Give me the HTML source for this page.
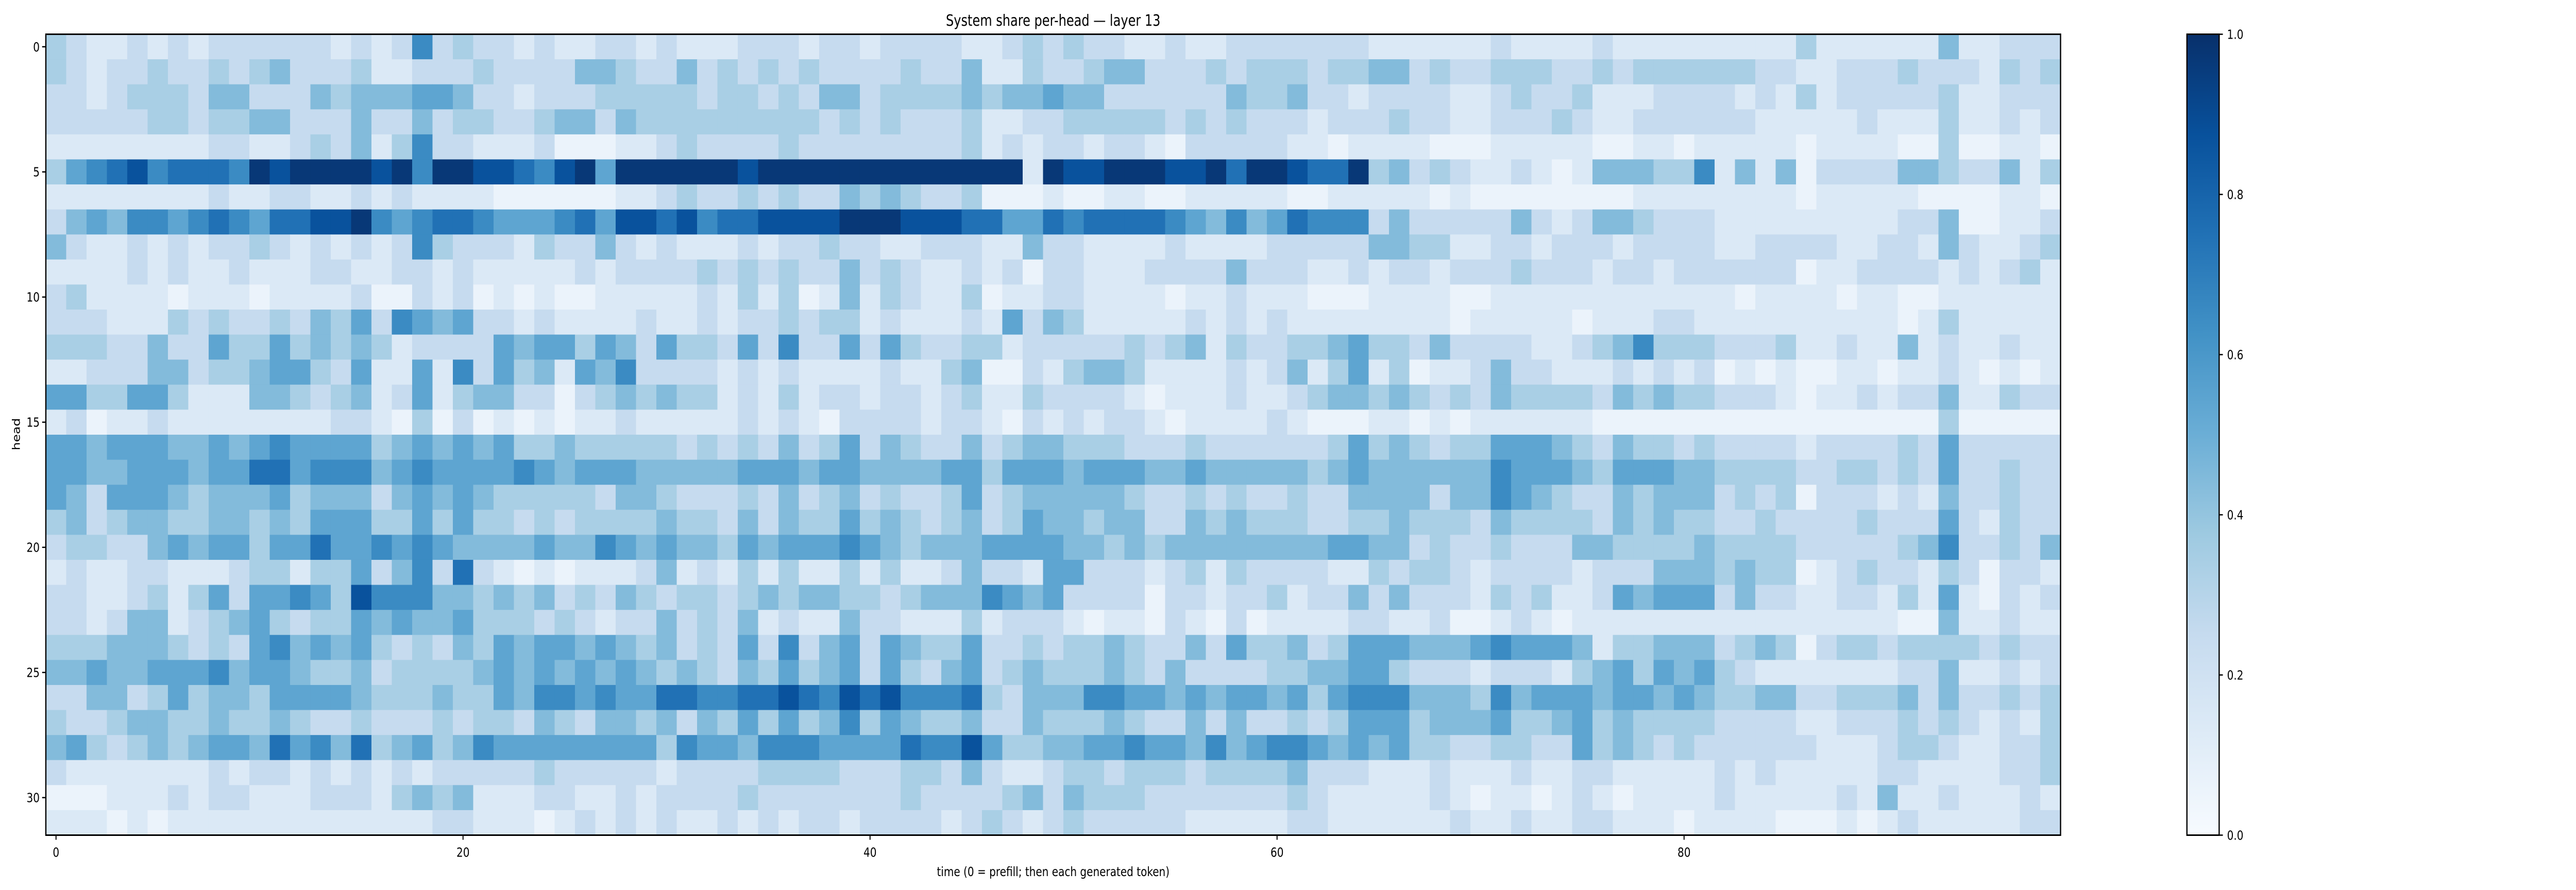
<!DOCTYPE html>
<html><head><meta charset="utf-8"><title>System share per-head — layer 13</title>
<style>html,body{margin:0;padding:0;background:#fff;overflow:hidden;width:100%;height:100%;}svg{display:block;width:100vw;height:100vh;font-family:"DejaVu Sans","Liberation Sans",sans-serif;}</style>
</head><body>
<svg id="chart" viewBox="0 0 6237 1728" preserveAspectRatio="none" xmlns="http://www.w3.org/2000/svg">
<defs><linearGradient id="blues" x1="0" y1="1" x2="0" y2="0">
<stop offset="0" stop-color="#f7fbff"/><stop offset="0.125" stop-color="#deebf7"/><stop offset="0.25" stop-color="#c6dbef"/><stop offset="0.375" stop-color="#9ecae1"/><stop offset="0.5" stop-color="#6baed6"/><stop offset="0.625" stop-color="#4292c6"/><stop offset="0.75" stop-color="#2171b5"/><stop offset="0.875" stop-color="#08519c"/><stop offset="1" stop-color="#08306b"/></linearGradient></defs>
<text x="2550" y="50" text-anchor="middle" font-size="30" fill="#000">System share per-head — layer 13</text>
<g id="cells"></g>
<rect x="111" y="66.5" width="4878" height="1555" fill="none" stroke="#000" stroke-width="3"/>
<g id="xticks"></g>
<g id="yticks"></g>
<text x="2550" y="1701" text-anchor="middle" font-size="25" fill="#000">time (0 = prefill; then each generated token)</text>
<text transform="translate(48,843) rotate(-90)" text-anchor="middle" font-size="25" fill="#000">head</text>
<rect x="5295" y="66.5" width="78" height="1555" fill="url(#blues)" stroke="#000" stroke-width="3"/>
<g id="cbticks"></g>
</svg>
<script>
const levels = [0.06,0.14,0.25,0.34,0.44,0.54,0.65,0.75,0.87,0.97];
const rowsA = [
"3211212122222212126232212","3212232232342223112223222","2212333244222434445542212","2222233233442224224233223",
"1111111122112324136221112","3567867776989999896998876","1111111121122112121111000","2454665676577889656776555",
"4211212122321212126322213","1111212112111221122121111","2311110111011112002120101","2221113232232435265452212",
"3332242253353434312222545","1122244233455325115162534","5533553111443234125134422","1201121111111122103020101",
"5545554454565555345454533","5544555455775666456555565","5425554344453444245454333","3423443344343555335353323",
"2332245455355755656544445","1211221112331335246272101","2211231352556538666443434","2212441234532335454453332",
"3334443232564545323243545","4454455564554334233334545","2244235344355554333433546","3223443343343223222323324",
"4532343455475647345346555","2111111121221212121222223","0001112122111222134341112","1110101111111111111221110"];
const rowsB = [
"1122121112221221222211232","2443224232323222232241132","2233333233232442333343445","4424333333333232322231122",
"0001123222232222222231212","8959999998999999999999919","0001123223232243432230001","6758878677888899988877557",
"2242121112122322112221142","1212222323232242321121202","0011111213130141321130112","1111211212232331211121524",
"5354253325262252532233122","1546222212121111211340021","0234343312131221221231132","0112111112121022221221021",
"4333332323242352432242344","4555444445554554444553555","3324432223242342322352344","2333343324243353432342354",
"4465454435455565434445555","0111241213131131311242215","2324323323434433234446545","3212242324121142211131222",
"5454342325262452543352232","4545434324353452532452343","6565577667787687866673244","3244342435353463543342243",
"5555536554666555576685334","2222212222333322233242112","2112122223222222232222342","1212121121212212222123212"];
const rowsC = [
"3221121122222221111112111","2344222323332334423223332","4422222243342212222112322","3333323232221222322112223",
"2122102222211011110001111","8899988979987793423211210","0011001111100111110100000","6777765464576662422222421",
"2111121111222224433112212","2111222242221121221222322","2111101121110001111001111","3111112121211111111011111",
"2223234132233453324222211","3443111121241351301124221","2221011121123443432324333","2122101111210001101011111",
"3332223222222353432335554","4555445444443454444446555","4443223232232244442446543","4344224343332233433324333",
"4434344444444554423223222","5222123132222113233212222","2222022122312242422213231","1011021020111122112001210",
"3343224253342355544456555","3343242222334455322212221","4665545455453566644436455","3343224242232355534445334",
"4556554645665454533223322","3323332333342221112111211","4333222222232111112101101","3222221111122111111211211"];
const rowsD = [
"121111111113111111411222","232333333221122232221323","311122221213122222311222","211222222111112111311212",
"100110111110111100300110","144433614140222244322413","000111111110111110000110","244322211111111122400112",
"221222211222211221421123","212212222220112222121231","111111110111101100111111","011122111111111101311111",
"234633322231121141211211","112121201010011011210101","324343322210112122411322","100000000000000000300000",
"324332322221222232522222","435554433332233232522322","224344423230222121422322","324343322322223222521322",
"443333433332222234622324","122244434330123221320221","125455524221122131510212","111111111111111100411211",
"413344423430233233332322","345354532111111122411212","545545433442233342422323","534333322221122232321213",
"534323222222111233211223","221111121211111221111223","210111121111121411211121","221110111100010121111122"];
const xTickVals = [0,20,40,60,80];
const yTickVals = [0,5,10,15,20,25,30];
const cbTickVals = [0.0,0.2,0.4,0.6,0.8,1.0];
const cbTickLabels = ["0.0","0.2","0.4","0.6","0.8","1.0"];

const NS = "http://www.w3.org/2000/svg";
const X0 = 111, X1 = 4989, Y0 = 66.5, Y1 = 1621.5;
const nCols = 99, nRows = 32;
const cw = (X1 - X0) / nCols, ch = (Y1 - Y0) / nRows;
function xScale(c){ return X0 + c * cw; }
function yScale(r){ return Y0 + r * ch; }
function cbScale(v){ return Y1 - v * (Y1 - Y0); }
const stops = [[0,[247,251,255]],[0.125,[222,235,247]],[0.25,[198,219,239]],[0.375,[158,202,225]],[0.5,[107,174,214]],[0.625,[66,146,198]],[0.75,[33,113,181]],[0.875,[8,81,156]],[1,[8,48,107]]];
function blues(v){
  v = Math.max(0, Math.min(1, v));
  for (let i = 1; i < stops.length; i++) {
    if (v <= stops[i][0]) {
      const a = stops[i-1], b = stops[i], t = (v - a[0]) / (b[0] - a[0]);
      const c = a[1].map((x, k) => Math.round(x + (b[1][k] - x) * t));
      return "rgb(" + c.join(",") + ")";
    }
  }
  return "rgb(8,48,107)";
}
const cells = document.getElementById("cells");
for (let r = 0; r < nRows; r++) {
  const s = rowsA[r] + rowsB[r] + rowsC[r] + rowsD[r];
  for (let c = 0; c < nCols && c < s.length; c++) {
    const v = levels[+s[c]];
    const el = document.createElementNS(NS, "rect");
    
    
    el.setAttribute("x", xScale(c));
    el.setAttribute("y", yScale(r));
    el.setAttribute("width", cw + 0.6);
    el.setAttribute("height", ch + 0.6);
    el.setAttribute("fill", blues(v));
    cells.appendChild(el);
  }
}
const xt = document.getElementById("xticks");
xTickVals.forEach(v => {
  const x = xScale(v + 0.5);
  const ln = document.createElementNS(NS, "line");
  
  
  ln.setAttribute("x1", x); ln.setAttribute("x2", x);
  ln.setAttribute("y1", Y1); ln.setAttribute("y2", Y1 + 9);
  ln.setAttribute("stroke", "#000"); ln.setAttribute("stroke-width", "2.5");
  xt.appendChild(ln);
  const tx = document.createElementNS(NS, "text");
  
  
  tx.setAttribute("x", x); tx.setAttribute("y", Y1 + 42);
  tx.setAttribute("text-anchor", "middle"); tx.setAttribute("font-size", "25");
  tx.textContent = String(v);
  xt.appendChild(tx);
});
const yt = document.getElementById("yticks");
yTickVals.forEach(v => {
  const y = yScale(v + 0.5);
  const ln = document.createElementNS(NS, "line");
  
  
  ln.setAttribute("x1", X0 - 9); ln.setAttribute("x2", X0);
  ln.setAttribute("y1", y); ln.setAttribute("y2", y);
  ln.setAttribute("stroke", "#000"); ln.setAttribute("stroke-width", "2.5");
  yt.appendChild(ln);
  const tx = document.createElementNS(NS, "text");
  
  
  tx.setAttribute("x", X0 - 15); tx.setAttribute("y", y + 9);
  tx.setAttribute("text-anchor", "end"); tx.setAttribute("font-size", "25");
  tx.textContent = String(v);
  yt.appendChild(tx);
});
const cbt = document.getElementById("cbticks");
cbTickVals.forEach((v, i) => {
  const y = cbScale(v);
  const ln = document.createElementNS(NS, "line");
  
  
  ln.setAttribute("x1", 5373); ln.setAttribute("x2", 5382);
  ln.setAttribute("y1", y); ln.setAttribute("y2", y);
  ln.setAttribute("stroke", "#000"); ln.setAttribute("stroke-width", "2.5");
  cbt.appendChild(ln);
  const tx = document.createElementNS(NS, "text");
  
  
  tx.setAttribute("x", 5392); tx.setAttribute("y", y + 9);
  tx.setAttribute("font-size", "25");
  tx.textContent = cbTickLabels[i];
  cbt.appendChild(tx);
});
</script>
</body></html>
